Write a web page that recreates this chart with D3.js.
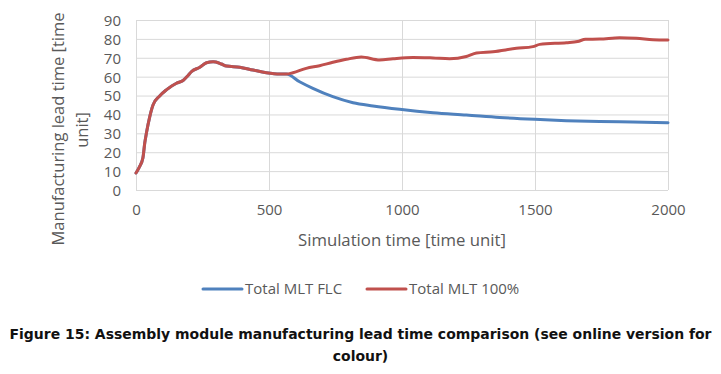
<!DOCTYPE html>
<html>
<head>
<meta charset="utf-8">
<script src="https://cdn.jsdelivr.net/npm/d3@7"></script>
<style>
  body { margin: 0; background: #fff; }
  svg { display: block; }
  .tick text { font-family: "Open Sans", sans-serif; font-size: 15px; fill: #595959; }
  .grid line, .grid path { stroke: #d9d9d9; stroke-width: 1; }
  .axis-title { font-family: "Open Sans", sans-serif; font-size: 16.5px; fill: #595959; }
  .legend-label { font-family: "Open Sans", sans-serif; font-size: 15px; fill: #595959; }
  .caption { font-family: "DejaVu Sans", sans-serif; font-weight: bold; font-size: 14px; fill: #111; }
</style>
</head>
<body>
<div id="wrapper"></div>
<script>
// data
const xTicks = [0, 500, 1000, 1500, 2000]
const yTicks = [0, 10, 20, 30, 40, 50, 60, 70, 80, 90]

const time100 = [0, 12, 26, 33, 39, 52, 64, 89, 114, 152, 177, 195, 208, 240, 265, 290, 300, 321, 340, 390, 440, 490, 540, 565, 590, 640, 690, 740, 791, 847, 916, 966, 1041, 1117, 1179, 1242, 1280, 1342, 1430, 1492, 1518, 1618, 1660, 1690, 1743, 1818, 1881, 1944, 2000]
const mlt100 = [9, 12, 17, 25, 30, 39, 45, 49.8, 53, 56.5, 58, 60.5, 62.6, 65, 67.4, 67.9, 67.8, 66.7, 65.6, 65, 63.5, 62.1, 61.4, 61.4, 62.1, 64.4, 65.8, 67.6, 69.2, 70.4, 68.8, 69.5, 70.2, 69.9, 69.5, 70.7, 72.5, 73.2, 75, 75.9, 77.1, 78, 78.6, 79.8, 79.9, 80.6, 80.3, 79.6, 79.4]

const timeFlc = [0, 12, 26, 33, 39, 52, 64, 89, 114, 152, 177, 195, 208, 240, 265, 290, 300, 321, 340, 390, 440, 490, 540, 565, 615, 665, 740, 816, 891, 991, 1117, 1242, 1367, 1499, 1618, 1743, 1868, 2000]
const mltFlc = [9, 12, 17, 25, 30, 39, 45, 49.8, 53, 56.5, 58, 60.5, 62.6, 65, 67.4, 67.9, 67.8, 66.7, 65.6, 65, 63.5, 62.1, 61.4, 61.4, 57.3, 53.8, 49.4, 46.2, 44.5, 42.7, 40.9, 39.7, 38.4, 37.4, 36.7, 36.2, 36, 35.6]

const seriesNames = ["Total MLT FLC", "Total MLT 100%"]
const seriesColors = ["#4f81bd", "#c0504d"]

const captionLines = [
  "Figure 15: Assembly module manufacturing lead time comparison (see online version for",
  "colour)",
]

function drawChart() {
  const series = [
    { name: seriesNames[0], color: seriesColors[0], points: timeFlc.map((t, i) => ({ t, v: mltFlc[i] })) },
    { name: seriesNames[1], color: seriesColors[1], points: time100.map((t, i) => ({ t, v: mlt100[i] })) },
  ]

  const dimensions = {
    width: 721,
    height: 374,
    plot: { left: 136, right: 668, top: 20, bottom: 190 },
  }

  const svg = d3.select("#wrapper")
    .append("svg")
      .attr("width", dimensions.width)
      .attr("height", dimensions.height)

  const xScale = d3.scaleLinear()
    .domain([0, 2000])
    .range([dimensions.plot.left, dimensions.plot.right])

  const yScale = d3.scaleLinear()
    .domain([0, 90])
    .range([dimensions.plot.bottom, dimensions.plot.top])

  // gridlines + tick labels
  const yAxis = svg.append("g")
      .attr("class", "grid")
      .attr("transform", `translate(${dimensions.plot.left},0)`)
    .call(d3.axisLeft(yScale)
      .tickValues(yTicks)
      .tickSize(-(dimensions.plot.right - dimensions.plot.left))
      .tickPadding(15))
  yAxis.select(".domain").remove()
  yAxis.selectAll(".tick text").attr("dy", "0.36em")

  const xAxis = svg.append("g")
      .attr("class", "grid")
      .attr("transform", `translate(0,${dimensions.plot.bottom})`)
    .call(d3.axisBottom(xScale)
      .tickValues(xTicks)
      .tickFormat(d3.format("d"))
      .tickSize(-(dimensions.plot.bottom - dimensions.plot.top))
      .tickPadding(14))
  xAxis.select(".domain").remove()

  // lines
  const lineGenerator = d3.line()
    .x(d => xScale(d.t))
    .y(d => yScale(d.v))
    .curve(d3.curveMonotoneX)

  svg.selectAll(".series")
      .data(series)
    .enter().append("path")
      .attr("class", "series")
      .attr("d", d => lineGenerator(d.points))
      .attr("fill", "none")
      .attr("stroke", d => d.color)
      .attr("stroke-width", 3)
      .attr("stroke-linejoin", "round")
      .attr("stroke-linecap", "round")

  // axis titles
  svg.append("text")
      .attr("class", "axis-title")
      .attr("x", (dimensions.plot.left + dimensions.plot.right) / 2)
      .attr("y", 246)
      .attr("text-anchor", "middle")
      .attr("textLength", 208)
      .attr("lengthAdjust", "spacingAndGlyphs")
      .text("Simulation time [time unit]")

  svg.append("text")
      .attr("class", "axis-title")
      .attr("transform", "translate(64,129) rotate(-90)")
      .attr("text-anchor", "middle")
      .attr("textLength", 233)
      .attr("lengthAdjust", "spacingAndGlyphs")
      .text("Manufacturing lead time [time")

  svg.append("text")
      .attr("class", "axis-title")
      .attr("transform", "translate(88,130) rotate(-90)")
      .attr("text-anchor", "middle")
      .text("unit]")

  // legend
  const legendX = [203, 367]
  const legend = svg.selectAll(".legend")
      .data(series)
    .enter().append("g")
      .attr("class", "legend")
      .attr("transform", (d, i) => `translate(${legendX[i]},289)`)

  legend.append("line")
      .attr("x1", 0)
      .attr("x2", 39)
      .attr("stroke", d => d.color)
      .attr("stroke-width", 3)
      .attr("stroke-linecap", "round")

  legend.append("text")
      .attr("class", "legend-label")
      .attr("x", 42)
      .attr("y", 5)
      .text(d => d.name)

  // caption
  const caption = svg.selectAll(".caption")
      .data(captionLines)
    .enter().append("text")
      .attr("class", "caption")
      .attr("x", dimensions.width / 2)
      .attr("y", (d, i) => 339 + i * 22)
      .attr("text-anchor", "middle")
      .text(d => d)

  const first = caption.nodes()[0]
  const ratio = 702 / first.getComputedTextLength()
  caption.each(function() {
    d3.select(this)
      .attr("textLength", this.getComputedTextLength() * ratio)
      .attr("lengthAdjust", "spacingAndGlyphs")
  })
}
drawChart()
</script>
</body>
</html>
